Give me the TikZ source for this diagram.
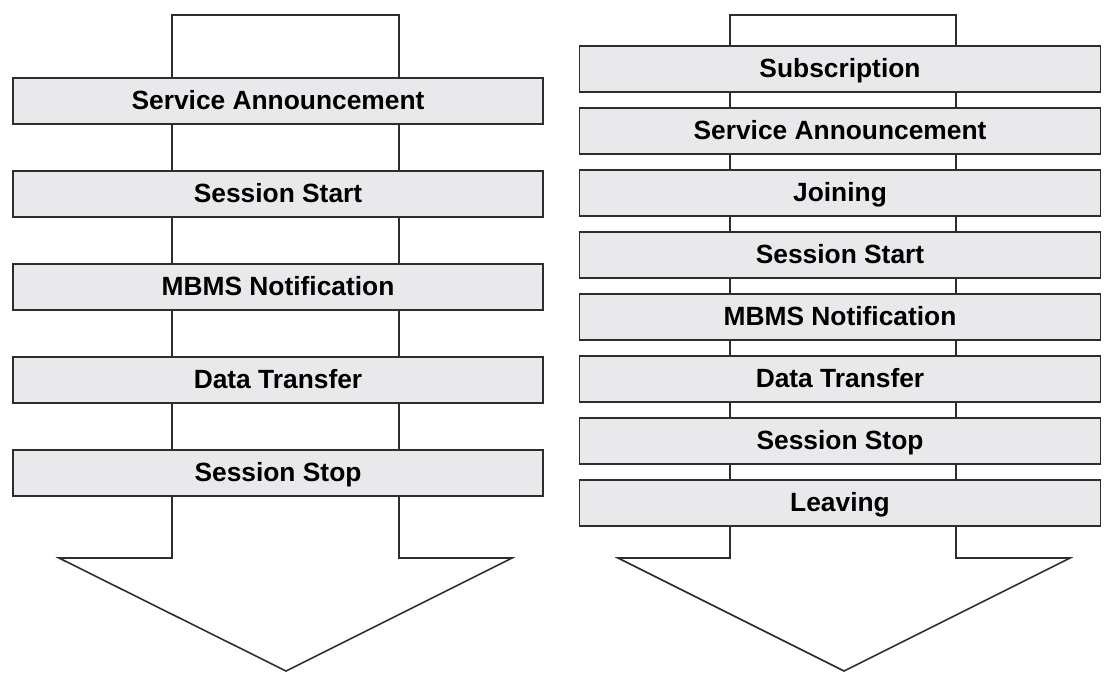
\documentclass[tikz,border=0pt]{standalone}
\usepackage{fontspec}
\setmainfont{Liberation Sans}
\usepackage{xcolor}
\usetikzlibrary{positioning}
\definecolor{phasegray}{RGB}{233, 233, 236}
\definecolor{edgegray}{RGB}{45, 45, 45}

\begin{document}
\begin{tikzpicture}[x=0.02cm, y=-0.02cm,
    flowarrow/.style={draw=edgegray, line width=0.9pt, fill=white, line join=miter},
    phase/.style={draw=edgegray, line width=0.9pt, fill=phasegray, inner sep=0pt,
        minimum height=0.92cm, text height=11pt, text depth=1pt,
        font=\fontsize{15}{18}\selectfont\bfseries}]
    % Canvas
    \useasboundingbox (0,0) rectangle (1106,673);

    % Big arrows
    \draw[flowarrow] (172,15) -- (399,15) -- (399,558) -- (512,558) -- (286,671)
        -- (59,558) -- (172,558) -- cycle;
    \draw[flowarrow] (730,15) -- (956,15) -- (956,558) -- (1070,558) -- (844,671)
        -- (618,558) -- (730,558) -- cycle;

    % Left phases
    \node[phase, minimum width=10.6cm] (lsa) at (278,101) {Service Announcement};
    \node[phase, minimum width=10.6cm] (lss) at (278,194) {Session Start};
    \node[phase, minimum width=10.6cm] (lmn) at (278,287) {MBMS Notification};
    \node[phase, minimum width=10.6cm] (ldt) at (278,380) {Data Transfer};
    \node[phase, minimum width=10.6cm] (lsp) at (278,473) {Session Stop};

    % Right phases
    \node[phase, minimum width=10.42cm] (rsub) at (840,69) {Subscription};
    \node[phase, minimum width=10.42cm] (rsa) at (840,131) {Service Announcement};
    \node[phase, minimum width=10.42cm] (rjoin) at (840,193) {Joining};
    \node[phase, minimum width=10.42cm] (rss) at (840,255) {Session Start};
    \node[phase, minimum width=10.42cm] (rmn) at (840,317) {MBMS Notification};
    \node[phase, minimum width=10.42cm] (rdt) at (840,379) {Data Transfer};
    \node[phase, minimum width=10.42cm] (rsp) at (840,441) {Session Stop};
    \node[phase, minimum width=10.42cm] (rleave) at (840,503) {Leaving};

\end{tikzpicture}
\end{document}
